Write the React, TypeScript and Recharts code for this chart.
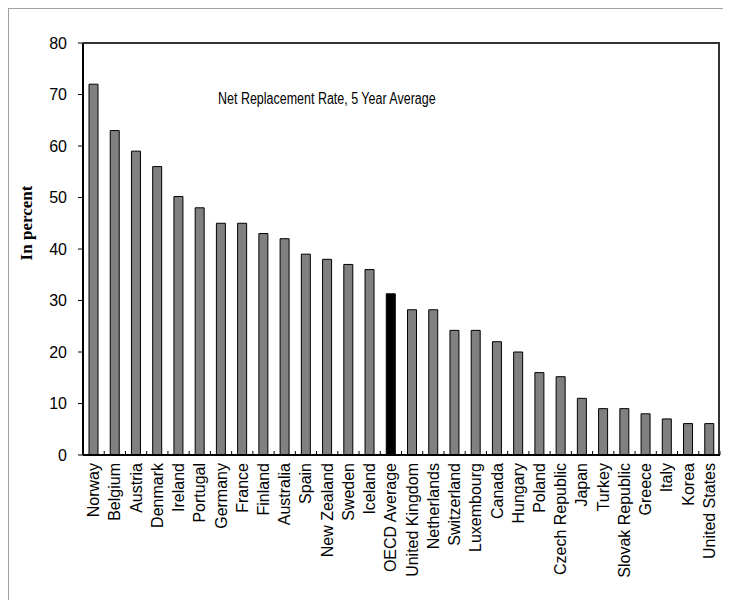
import React from "react";
import { BarChart, Bar, XAxis, YAxis, Cell } from "recharts";

const countries = [
  "Norway", "Belgium", "Austria", "Denmark", "Ireland", "Portugal", "Germany",
  "France", "Finland", "Australia", "Spain", "New Zealand", "Sweden", "Iceland",
  "OECD Average", "United Kingdom", "Netherlands", "Switzerland", "Luxembourg",
  "Canada", "Hungary", "Poland", "Czech Republic", "Japan", "Turkey",
  "Slovak Republic", "Greece", "Italy", "Korea", "United States",
];

const rates = [
  72, 63, 59, 56, 50.2, 48, 45, 45, 43, 42, 39, 38, 37, 36, 31.3, 28.2, 28.2,
  24.2, 24.2, 22, 20, 16, 15.2, 11, 9, 9, 8, 7, 6.1, 6.1,
];

const yTicks = [0, 10, 20, 30, 40, 50, 60, 70, 80];

const data = countries.map((name, i) => ({ name, value: rates[i] }));

const sans = '"Liberation Sans", Arial, sans-serif';

// chart box
const W = 722;
const H = 590;
const M = { top: 34, right: 11, left: 0, bottom: 14 };
const Y_W = 74;
const X_H = 130;

function XTick(props: any) {
  const { x, y, payload, index, width } = props;
  const bw = width / countries.length;
  const axisY = y - 8;
  return (
    <g>
      <line x1={x - bw / 2} x2={x - bw / 2} y1={axisY} y2={axisY - 4} stroke="#000" />
      {index === countries.length - 1 && (
        <line x1={x + bw / 2} x2={x + bw / 2} y1={axisY} y2={axisY - 4} stroke="#000" />
      )}
      <text
        x={x}
        y={y}
        transform={`rotate(-90, ${x}, ${y})`}
        textAnchor="end"
        dominantBaseline="central"
        fontSize={16}
        fontFamily={sans}
        fill="#000"
      >
        {payload.value}
      </text>
    </g>
  );
}

export default function App() {
  const plotLeft = M.left + Y_W;
  const plotTop = M.top;
  const plotW = W - M.right - plotLeft;
  const plotH = H - M.bottom - X_H - plotTop;
  return (
    <div
      style={{
        position: "relative",
        width: 723,
        height: 592,
        border: "1px solid #a0a0a0",
        borderRight: "none",
        borderBottom: "none",
        boxSizing: "border-box",
        background: "#fff",
      }}
    >
      <style>{"html, body { overflow: hidden; }"}</style>
      <BarChart width={W} height={H} data={data} margin={M} barCategoryGap={0}>
        <XAxis
          dataKey="name"
          interval={0}
          tickLine={false}
          tickSize={0}
          tickMargin={8}
          height={X_H}
          axisLine={{ stroke: "#000", strokeWidth: 2 }}
          tick={<XTick />}
        />
        <YAxis
          domain={[0, 80]}
          ticks={yTicks}
          width={Y_W}
          tickSize={5}
          tickMargin={11}
          interval={0}
          axisLine={{ stroke: "#000", strokeWidth: 2 }}
          tickLine={{ stroke: "#000" }}
          tick={{ fill: "#000", fontSize: 16, fontFamily: sans }}
        />
        <Bar dataKey="value" barSize={9} stroke="#000" strokeWidth={1} isAnimationActive={false}>
          {data.map((d) => (
            <Cell key={d.name} fill={d.name === "OECD Average" ? "#000" : "#808080"} />
          ))}
        </Bar>
      </BarChart>
      <div
        style={{
          position: "absolute",
          left: plotLeft,
          top: plotTop - 1,
          width: plotW,
          height: plotH,
          borderTop: "2px solid #333",
          borderRight: "2px solid #333",
          boxSizing: "border-box",
          pointerEvents: "none",
        }}
      />
      <div
        style={{
          position: "absolute",
          left: 209,
          top: 81,
          fontFamily: sans,
          fontSize: 16,
          color: "#000",
          whiteSpace: "nowrap",
          transform: "scaleX(0.78)",
          transformOrigin: "left center",
        }}
      >
        Net Replacement Rate, 5 Year Average
      </div>
      <div style={{ position: "absolute", left: 18, top: 214, width: 0, height: 0 }}>
        <div
          style={{
            position: "absolute",
            transform: "translate(-50%, -50%) rotate(-90deg)",
            fontFamily: '"Liberation Serif", "Times New Roman", serif',
            fontWeight: "bold",
            fontSize: 17,
            whiteSpace: "nowrap",
          }}
        >
          In percent
        </div>
      </div>
    </div>
  );
}
